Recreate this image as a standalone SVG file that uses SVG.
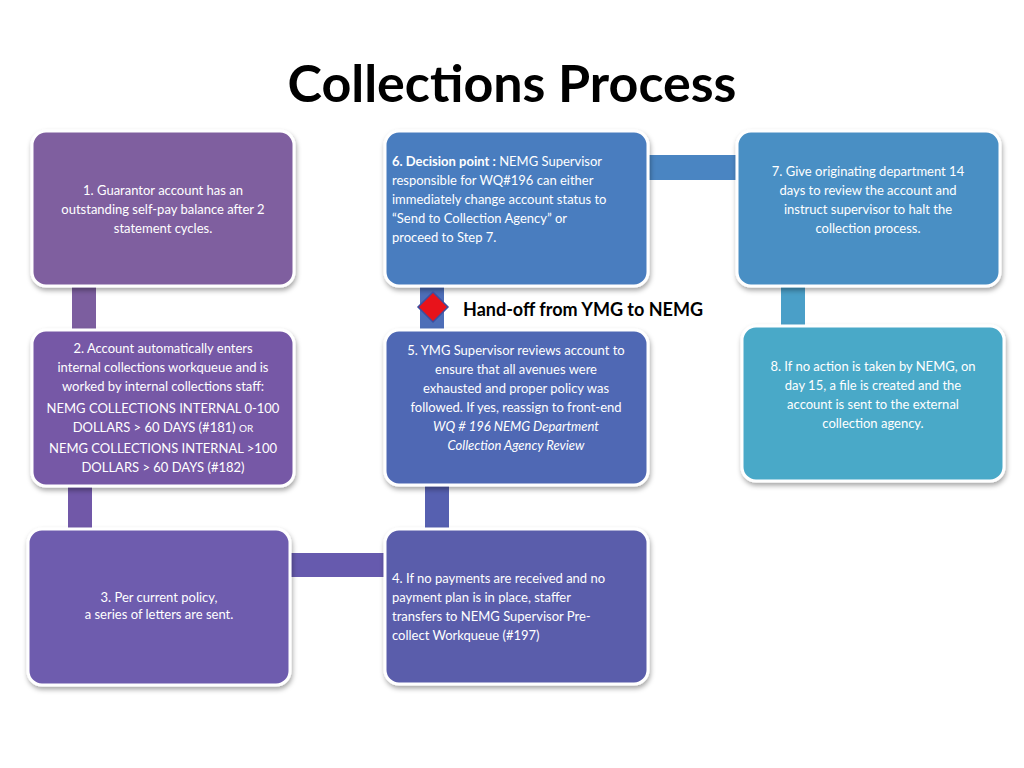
<svg xmlns="http://www.w3.org/2000/svg" width="1024" height="768" viewBox="0 0 1024 768">
<defs>
<filter id="sh" x="-10%" y="-10%" width="120%" height="125%"><feDropShadow dx="1" dy="3" stdDeviation="2.5" flood-color="#000" flood-opacity="0.35"/></filter>
<linearGradient id="gl" x1="0" y1="0" x2="0" y2="1"><stop offset="0" stop-color="#fff" stop-opacity="0.12"/><stop offset="1" stop-color="#000" stop-opacity="0.08"/></linearGradient>
</defs>
<style>
.b{stroke:#fff;stroke-width:3;filter:url(#sh)}
.t{font-family:Lato,"Open Sans",sans-serif;font-size:13px;fill:#fff}
.c text{text-anchor:middle}
</style>
<rect width="1024" height="768" fill="#fff"/>
<text x="512" y="102" text-anchor="middle" font-family="Lato,'Open Sans',sans-serif" font-weight="bold" font-size="52" fill="#000">Collections Process</text>
<g id="connectors">
<rect x="72" y="284" width="24" height="48" fill="#7c5e9f"/>
<rect x="68" y="484" width="24" height="47" fill="#7158a8"/>
<rect x="288" y="553" width="99" height="24" fill="#665aae"/>
<rect x="425" y="483" width="24" height="48" fill="#5660b0"/>
<rect x="420" y="284" width="24" height="48" fill="#4d6eb8"/>
<rect x="646" y="155" width="93" height="25" fill="#4a85c2"/>
<rect x="781" y="284" width="24" height="44" fill="#4a9fc8"/>
</g>
<g id="n1" class="c"><rect class="b" x="32" y="131" width="262" height="155" rx="14" fill="#7f5f9f"/>
<text class="t"><tspan x="163" y="195">1.  Guarantor account  has an</tspan><tspan x="163" y="214">outstanding  self-pay balance after 2</tspan><tspan x="163" y="233">statement cycles.</tspan></text></g>
<g id="n2" class="c"><rect class="b" x="32" y="330" width="262" height="156" rx="14" fill="#7659a6"/>
<text class="t"><tspan x="163" y="353">2.  Account automatically enters</tspan><tspan x="163" y="372">internal collections workqueue and is</tspan><tspan x="163" y="391">worked by internal collections staff:</tspan><tspan x="163" y="413">NEMG COLLECTIONS INTERNAL 0-100</tspan><tspan x="163" y="432">DOLLARS &gt; 60 DAYS (#181) <tspan font-size="10">OR</tspan></tspan><tspan x="163" y="453">NEMG COLLECTIONS INTERNAL &gt;100</tspan><tspan x="163" y="472">DOLLARS &gt; 60 DAYS (#182)</tspan></text></g>
<g id="n3" class="c"><rect class="b" x="28" y="529" width="262" height="156" rx="14" fill="#6e5cae"/>
<text class="t"><tspan x="159" y="602">3.  Per current policy,</tspan><tspan x="159" y="619">a series of letters are sent.</tspan></text></g>
<g id="n4"><rect class="b" x="385" y="529" width="263" height="155" rx="14" fill="#5a5dab"/>
<text class="t"><tspan x="392" y="583">4. If no payments are received and no</tspan><tspan x="392" y="602">payment plan is in place,  staffer</tspan><tspan x="392" y="621">transfers to NEMG Supervisor Pre-</tspan><tspan x="392" y="640">collect Workqueue (#197)</tspan></text></g>
<g id="n5" class="c"><rect class="b" x="385" y="330" width="263" height="155" rx="14" fill="#4f68b4"/>
<text class="t"><tspan x="516" y="355">5. YMG Supervisor reviews account to</tspan><tspan x="516" y="374">ensure that all avenues were</tspan><tspan x="516" y="393">exhausted and proper policy was</tspan><tspan x="516" y="412">followed. If yes, reassign to front-end</tspan><tspan x="516" y="431" font-style="italic">WQ # 196 NEMG Department</tspan><tspan x="516" y="450" font-style="italic">Collection Agency Review</tspan></text></g>
<g id="n6"><rect class="b" x="385" y="131" width="263" height="155" rx="14" fill="#4a7dbf"/>
<text class="t"><tspan x="392" y="166"><tspan font-weight="bold">6. Decision point :</tspan> NEMG Supervisor</tspan><tspan x="392" y="185">responsible for WQ#196 can either</tspan><tspan x="392" y="204">immediately change account status to</tspan><tspan x="392" y="223">“Send to Collection Agency”  or</tspan><tspan x="392" y="242">proceed to Step 7.</tspan></text></g>
<g id="n7" class="c"><rect class="b" x="737" y="131" width="263" height="155" rx="14" fill="#4a8fc4"/>
<text class="t"><tspan x="868" y="176">7. Give originating department 14</tspan><tspan x="868" y="195">days to review the account and</tspan><tspan x="868" y="214">instruct supervisor to halt the</tspan><tspan x="868" y="233">collection process.</tspan></text></g>
<g id="n8" class="c"><rect class="b" x="742" y="326" width="262" height="155" rx="14" fill="#4aa9c8"/>
<text class="t"><tspan x="873" y="371">8. If no action is taken by NEMG, on</tspan><tspan x="873" y="390">day 15, a file is created and the</tspan><tspan x="873" y="409">account is sent to the external</tspan><tspan x="873" y="428">collection agency.</tspan></text></g>
<g id="handoff">
<polygon points="433,292 448,307 433,322 418,307" fill="#e8131b" stroke="#3d4fa0" stroke-width="1.5"/>
<text x="463" y="316" font-family="Lato,'Open Sans',sans-serif" font-weight="bold" font-size="18" fill="#000">Hand-off from YMG to NEMG</text>
</g>
</svg>
